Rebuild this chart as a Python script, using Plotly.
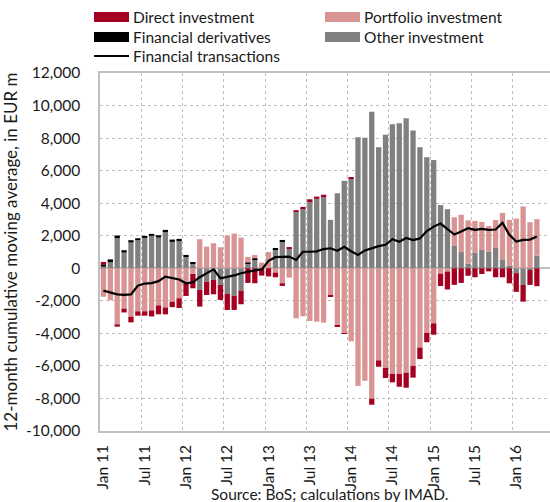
import plotly.graph_objects as go

# Monthly data, Jan 2011 - Apr 2016 (EUR m)
direct = [145, 0, -145, -235, -350, -270, -270, -370, -550, -420, -340, -595,
          -780, -880, -1025, -820, -880, -920, -985, -880, -840, -900, -920, -450,
          -500, -290, -165, 70, 125, 110, 110, 140, 110, -90, -60, -40,
          90, 0, 0, -370, -390, -625, -520, -790, -922, -720, -710, -575,
          -700, -760, -1100, -1020, -900, -460, -553, -350, -190, -553, -555, -925,
          -1150, -1025, -920, -1100]
portfolio = [-1750, -1970, -3445, -2480, -2975, -2645, -2645, -2590, -2280, -2410, -2050, -1845,
             -920, -350, 1785, 1330, 1540, 1290, 2010, 2130, 1885, 350, 205, 350,
             1000, -265, -920, -575, -3075, -2950, -3240, -3280, -3340, -1670, -3535, -3980,
             -4490, -7230, -6915, -8015, -5660, -6120, -6490, -6490, -6418, -6000, -4870, -3970,
             -3382, -330, -200, 1760, 2290, 2670, 1935, 1720, 1590, 1690, 2850, 2830,
             3055, 3800, 2830, 2240]
derivatives = [145, 175, 165, 145, 145, 125, 125, 125, 145, 145, 145, 145,
               100, 60, 0, 0, 0, 0, 0, 0, 0, 60, 80, 0,
               0, 60, 100, 0, 0, 0, 0, 0, 0, 0, 0, 0,
               0, 0, 0, 0, 0, 0, 0, 0, 0, 0, 0, 0,
               0, 0, 0, 0, 0, 0, 0, 0, 0, 0, 0, 0,
               0, 0, 0, 0]
other = [100, 370, 1845, 965, 1580, 1720, 1865, 1990, 1885, 2215, 1620, 1660,
         720, 310, -1330, -820, -720, -1025, -1580, -1680, -1370, 287, 530, 0,
         0, 1170, 1640, 1210, 3445, 3660, 4130, 4265, 4410, 2975, 4610, 5370,
         5515, 8055, 8025, 9625, 7440, 8200, 8845, 8905, 9225, 8465, 7440, 6825,
         6650, 3885, 3630, 1375, 995, 278, 975, 1130, 1005, 1280, 555, 145,
         -300, -1025, -100, 780]
transactions = [-1370, -1470, -1600, -1630, -1610, -1070, -940, -910, -790, -510, -620, -690,
                -920, -860, -550, -330, -70, -615, -530, -440, -305, -200, -130, -80,
                455, 680, 680, 720, 515, 1015, 1015, 1040, 1180, 1230, 1075, 1320,
                1045, 820, 1095, 1250, 1360, 1445, 1785, 1630, 1865, 1730, 1835, 2285,
                2560, 2745, 2400, 2070, 2255, 2460, 2360, 2420, 2360, 2380, 2790, 2050,
                1640, 1740, 1765, 1950]

x_tick_labels = ["Jan 11", "Jul 11", "Jan 12", "Jul 12", "Jan 13", "Jul 13",
                 "Jan 14", "Jul 14", "Jan 15", "Jul 15", "Jan 16"]
y_tick_values = [-10000, -8000, -6000, -4000, -2000, 0, 2000, 4000, 6000, 8000, 10000, 12000]
y_tick_labels = ["-10,000", "-8,000", "-6,000", "-4,000", "-2,000", "0",
                 "2,000", "4,000", "6,000", "8,000", "10,000", "12,000"]

C_DIRECT = "#A50021"
C_PORT = "#D99594"
C_DERIV = "#000000"
C_OTHER = "#808080"
FONT = "Lato"
GRID = "#BFBFBF"

n = len(transactions)
x = list(range(n))

fig = go.Figure()
for name, vals, col in [("Other investment", other, C_OTHER),
                        ("Financial derivatives", derivatives, C_DERIV),
                        ("Portfolio investment", portfolio, C_PORT),
                        ("Direct investment", direct, C_DIRECT)]:
    fig.add_trace(go.Bar(x=x, y=vals, name=name, marker=dict(color=col, line=dict(width=0)),
                         width=0.77, showlegend=False))
fig.add_trace(go.Scatter(x=x, y=transactions, name="Financial transactions", mode="lines",
                         line=dict(color="black", width=2.2), showlegend=False))

W, H = 550, 502
L, R, T, B = 100, 0, 73, 71
pw, ph = W - L - R, H - T - B
px_per_cat = 6.88
xmin = -0.5
xmax = xmin + pw / px_per_cat

def px2paper(px, py):
    return (px - L) / pw, (H - B - py) / ph

fig.update_layout(
    width=W, height=H, margin=dict(l=L, r=R, t=T, b=B),
    barmode="relative", bargap=0.23,
    plot_bgcolor="white", paper_bgcolor="white",
    font=dict(family=FONT, size=15, color="#1a1a1a"),
    xaxis=dict(range=[xmin, xmax], tickmode="array",
               tickvals=[i * 6 for i in range(len(x_tick_labels))], ticktext=x_tick_labels,
               tickangle=-90, showgrid=False, ticks="", ticklabelstandoff=6,
               showline=True, linecolor=GRID, linewidth=1.5, mirror=True,
               tickfont=dict(size=15.5),
               minor=dict(tick0=-0.5, dtick=6, showgrid=True, gridcolor=GRID,
                          griddash="dot", gridwidth=1, ticks="")),
    yaxis=dict(range=[-10000, 12000], tickmode="array", tickvals=y_tick_values,
               ticktext=y_tick_labels, showgrid=True, gridcolor=GRID, griddash="dot",
               gridwidth=1, zeroline=True, zerolinecolor=GRID, zerolinewidth=2,
               showline=True, linecolor=GRID, linewidth=1.5, ticks="",
               ticklabelstandoff=15, tickfont=dict(size=15.5),
               title=dict(text="12-month cumulative moving average, in EUR m",
                          font=dict(size=17), standoff=6)),
)

# Manual legend
legend_items = [
    ("Direct investment", C_DIRECT, 94, 17, "bar"),
    ("Portfolio investment", C_PORT, 325, 17, "bar"),
    ("Financial derivatives", C_DERIV, 94, 37, "bar"),
    ("Other investment", C_OTHER, 325, 37, "bar"),
    ("Financial transactions", "black", 94, 56, "line"),
]
shapes = []
annotations = []
for label, col, sx, sy, kind in legend_items:
    x0, y0 = px2paper(sx, sy - 5)
    x1, y1 = px2paper(sx + 35, sy + 5)
    if kind == "bar":
        shapes.append(dict(type="rect", xref="paper", yref="paper", x0=x0, x1=x1, y0=y1, y1=y0,
                           fillcolor=col, line=dict(width=0)))
    else:
        ya = px2paper(0, sy)[1]
        shapes.append(dict(type="line", xref="paper", yref="paper", x0=x0, x1=x1, y0=ya, y1=ya,
                           line=dict(color=col, width=2)))
    tx, ty = px2paper(sx + 37, sy)
    annotations.append(dict(text=label, xref="paper", yref="paper", x=tx, y=ty,
                            xanchor="left", yanchor="middle", showarrow=False,
                            font=dict(size=15.5, family=FONT, color="#1a1a1a")))

sx_, sy_ = px2paper(329, 494)
annotations.append(dict(text="Source: BoS; calculations by IMAD.", xref="paper", yref="paper",
                        x=sx_, y=sy_, xanchor="center", yanchor="middle", showarrow=False,
                        font=dict(size=15.5, family=FONT, color="#1a1a1a")))
fig.update_layout(shapes=shapes, annotations=annotations)

fig.write_html("out.html", config={"displayModeBar": False},
               post_script="document.body.style.margin='0px';")
